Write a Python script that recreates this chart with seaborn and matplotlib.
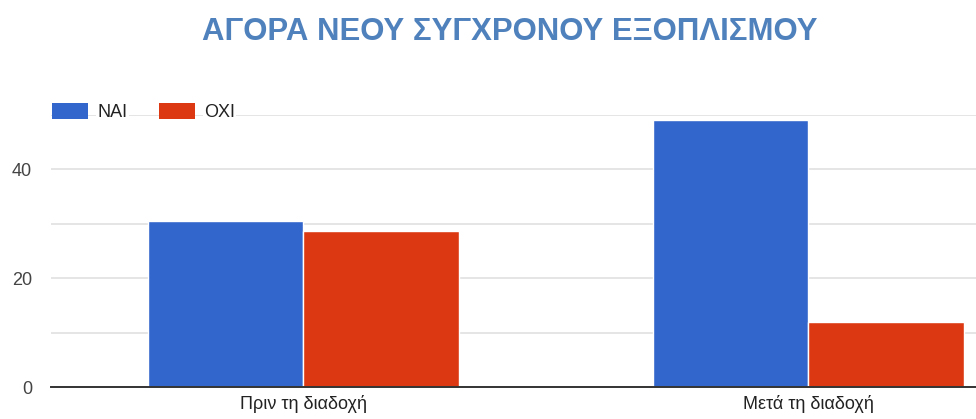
import matplotlib
matplotlib.use("Agg")
import matplotlib.pyplot as plt
import seaborn as sns
import pandas as pd
from matplotlib.patches import Patch

# Survey answers before and after the succession
categories = ["Πριν τη διαδοχή", "Μετά τη διαδοχή"]
series_names = ["ΝΑΙ", "ΟΧΙ"]
yes_values = [30.5, 49.1]
no_values = [28.7, 12.0]
y_ticks = [0, 20, 40]
title = "ΑΓΟΡΑ ΝΕΟΥ ΣΥΓΧΡΟΝΟΥ ΕΞΟΠΛΙΣΜΟΥ"

colors = {"ΝΑΙ": "#3366cc", "ΟΧΙ": "#dc3912"}

df = pd.DataFrame({
    "category": categories * 2,
    "answer": [series_names[0]] * len(categories) + [series_names[1]] * len(categories),
    "value": yes_values + no_values,
})

sns.set_theme(style="white")
plt.rcParams["font.family"] = ["Liberation Sans", "DejaVu Sans"]

W, H = 976, 419
fig = plt.figure(figsize=(W / 100, H / 100), dpi=100)
ax = fig.add_axes([51 / W, (H - 387) / H, (W - 51) / W, (387 - 115) / H])

sns.barplot(data=df, x="category", y="value", hue="answer", order=categories,
            hue_order=series_names, palette=colors, width=0.616, gap=0,
            edgecolor="white", linewidth=1.0, saturation=1, ax=ax, legend=False)

ax.set_xlim(-0.5, 1.3327)
ax.set_ylim(0, 50)
ax.set_yticks(y_ticks)
ax.set_yticks([10, 30, 50], minor=True)
ax.grid(True, axis="y", which="both", color="#dedede", linewidth=1.1, zorder=0)
ax.set_axisbelow(True)
ax.tick_params(axis="y", which="both", length=0, labelsize=13, labelcolor="#444444", pad=13.5)
ax.tick_params(axis="x", length=0, labelsize=13, labelcolor="#222222", pad=6)
ax.set_xlabel("")
ax.set_ylabel("")
for side in ["top", "right", "left"]:
    ax.spines[side].set_visible(False)
ax.spines["bottom"].set_color("#333333")
ax.spines["bottom"].set_linewidth(1.4)
ax.spines["bottom"].set_zorder(5)

handles = [Patch(facecolor=colors[s], edgecolor="none", label=s) for s in series_names]
leg = fig.legend(handles=handles, loc="center left", bbox_to_anchor=(52 / W, 1 - 112 / H),
                 ncol=2, frameon=False, fontsize=13, handlelength=2.0, handleheight=1.0,
                 handletextpad=0.5, columnspacing=1.75, borderpad=0, borderaxespad=0)
for t in leg.get_texts():
    t.set_color("#222222")
    t.set_bbox(dict(facecolor="white", edgecolor="none", pad=1))

fig.text(510 / W, 1 - 32 / H, title, ha="center", va="center", fontsize=22.4,
         fontweight="bold", color="#4f81bd")

fig.savefig("out.png", dpi=100, facecolor="white")
